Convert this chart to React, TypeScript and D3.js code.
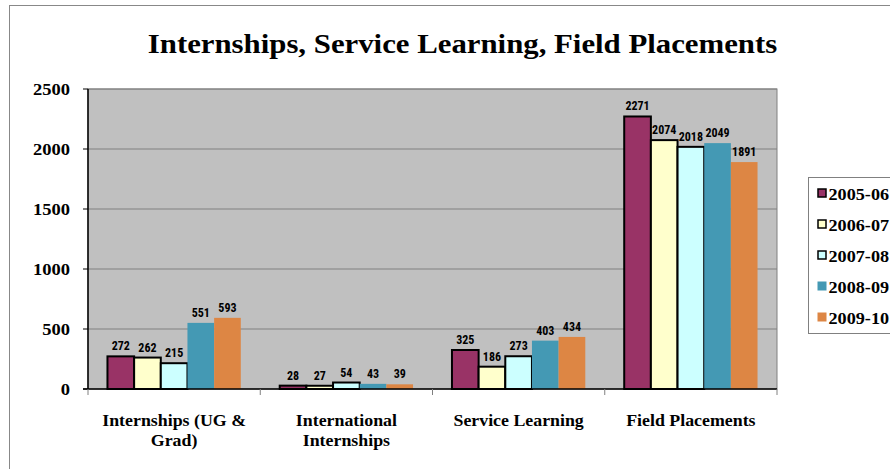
import React from 'react';
import * as d3 from 'd3';

const title = 'Internships, Service Learning, Field Placements';
const categories = [
  ['Internships (UG &', 'Grad)'],
  ['International', 'Internships'],
  ['Service Learning'],
  ['Field Placements'],
];
const seriesNames = ['2005-06', '2006-07', '2007-08', '2008-09', '2009-10'];
const seriesColors = ['#993366', '#FFFFCC', '#CCFFFF', '#4499B4', '#DD8644'];
const seriesOutlined = [true, true, true, false, false];
// values[series][category]
const values = [
  [272, 28, 325, 2271],
  [262, 27, 186, 2074],
  [215, 54, 273, 2018],
  [551, 43, 403, 2049],
  [593, 39, 434, 1891],
];
const yTicks = [0, 500, 1000, 1500, 2000, 2500];

const serif = 'Liberation Serif';
const narrow = 'Roboto Condensed';

const width = 890;
const height = 469;
const plot = { left: 88, right: 777, top: 89, bottom: 389 };

// the original picture is a little stretched sideways, so text gets a horizontal scale
const at = (x: number, y: number, sx: number) => `translate(${x},${y}) scale(${sx},1)`;

export default function App() {
  const y = d3.scaleLinear().domain([0, 2500]).range([plot.bottom, plot.top]);
  const x0 = d3.scaleBand<number>()
    .domain(categories.map((_, i) => i))
    .range([plot.left, plot.right])
    .padding(0);
  const groupW = x0.bandwidth();
  const gapRatio = 1.46;
  const barW = groupW / (seriesNames.length + gapRatio);
  const side = (barW * gapRatio) / 2;
  const x1 = d3.scaleBand<number>()
    .domain(seriesNames.map((_, i) => i))
    .range([side, groupW - side])
    .padding(0);

  const serifText = { fontFamily: serif, fontWeight: 'bold' as const };
  const bounds = categories.map((_, i) => x0(i) as number).concat([plot.right]);

  return (
    <div style={{ position: 'absolute', left: 0, top: 0, width, height, overflow: 'hidden', background: '#fff' }}>
      <svg width={width} height={height} style={{ display: 'block' }}>
        {/* chart frame */}
        <rect x={9.5} y={5.5} width={900} height={500} fill="#fff" stroke="#888" />

        <text transform={at(462.5, 53, 1.1)} textAnchor="middle" style={{ ...serifText, fontSize: 28 }}>{title}</text>

        {/* plot area */}
        <rect x={plot.left} y={plot.top} width={plot.right - plot.left} height={plot.bottom - plot.top}
          fill="#C0C0C0" stroke="#808080" />
        {yTicks.filter(t => t > 0).map(t => (
          <line key={t} x1={plot.left} x2={plot.right} y1={y(t)} y2={y(t)} stroke="#808080" />
        ))}

        {/* bars */}
        {values.map((serie, si) => (
          <g key={si}>
            {serie.map((v, ci) => (
              <rect key={ci}
                x={(x0(ci) as number) + (x1(si) as number)}
                y={y(v)} width={barW} height={plot.bottom - y(v)}
                fill={seriesColors[si]}
                stroke={seriesOutlined[si] ? '#000' : 'none'} strokeWidth={2} />
            ))}
            {serie.map((v, ci) => (
              <text key={'t' + ci}
                x={(x0(ci) as number) + (x1(si) as number) + barW / 2}
                y={y(v) - 6} textAnchor="middle"
                style={{ fontFamily: narrow, fontWeight: 'bold', fontSize: 12 }}>{v}</text>
            ))}
          </g>
        ))}

        {/* axes */}
        <line x1={plot.left} x2={plot.left} y1={plot.top} y2={plot.bottom} stroke="#000" strokeWidth={1.5} />
        <line x1={plot.left - 5} x2={plot.right} y1={plot.bottom} y2={plot.bottom} stroke="#000" strokeWidth={1.5} />
        {yTicks.map(t => (
          <g key={t}>
            <line x1={plot.left - 5} x2={plot.left} y1={y(t)} y2={y(t)} stroke="#000" />
            <text transform={at(70, y(t) + 5.5, 1.09)} textAnchor="end" style={{ ...serifText, fontSize: 17 }}>{t}</text>
          </g>
        ))}
        {bounds.map((b, i) => (
          <line key={i} x1={b} x2={b} y1={plot.bottom} y2={plot.bottom + 6} stroke="#808080" />
        ))}
        {categories.map((lines, ci) =>
          lines.map((ln, li) => (
            <text key={ci + '-' + li} transform={at((x0(ci) as number) + groupW / 2, 426 + li * 20, 1.05)}
              textAnchor="middle" style={{ ...serifText, fontSize: 17 }}>{ln}</text>
          ))
        )}

        {/* legend */}
        <rect x={808.5} y={177.5} width={100} height={156} fill="#fff" stroke="#808080" />
        {seriesNames.map((name, si) => {
          const cy = 193 + si * 31;
          const o = seriesOutlined[si];
          return (
            <g key={name}>
              <rect x={o ? 818 : 817.5} y={cy - (o ? 4 : 4.5)} width={o ? 8 : 9} height={o ? 8 : 9}
                fill={seriesColors[si]} stroke={o ? '#000' : 'none'} strokeWidth={1.5} />
              <text transform={at(828.5, cy + 6.5, 1.07)} style={{ ...serifText, fontSize: 17 }}>{name}</text>
            </g>
          );
        })}
      </svg>
    </div>
  );
}
